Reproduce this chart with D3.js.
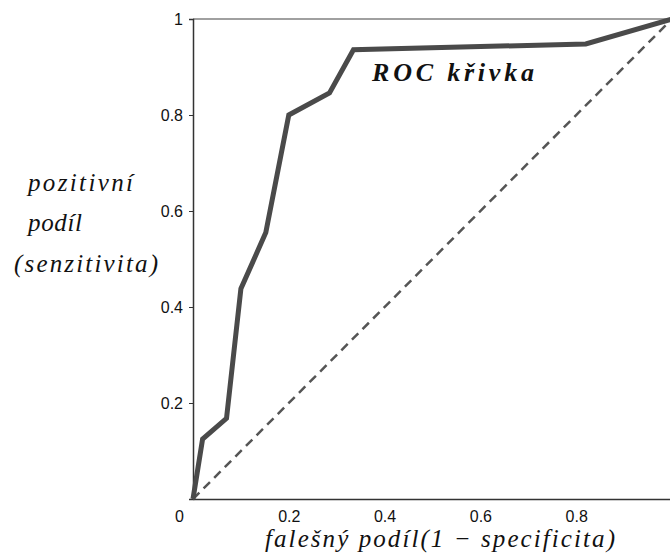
<!DOCTYPE html>
<html lang="en">
<head>
  <meta charset="utf-8">
  <title>ROC křivka</title>
  <script src="https://d3js.org/d3.v7.js"></script>
  <style>
    body { margin: 0; background: #fff; }
    .lbl { font-family: "Liberation Serif", "Times New Roman", serif; font-style: italic; fill: #111; }
  </style>
</head>
<body>
  <div id="my_dataviz"></div>

  <script>
    // ROC points (false positive rate, true positive rate)
    var fpr = [0, 0.02, 0.07, 0.10, 0.152, 0.20, 0.285, 0.335, 0.82, 1];
    var tpr = [0, 0.125, 0.168, 0.438, 0.555, 0.80, 0.846, 0.936, 0.948, 1];
    var xTicks = [0, 0.2, 0.4, 0.6, 0.8];
    var yTicks = [0.2, 0.4, 0.6, 0.8, 1];

    var W = 670, H = 557;
    var margin = {top: 19, right: -2, bottom: 58, left: 193},
        width = W - margin.left - margin.right,
        height = H - margin.top - margin.bottom;

    var svg = d3.select("#my_dataviz")
      .append("svg")
      .attr("width", W)
      .attr("height", H);

    var g = svg.append("g")
      .attr("transform", "translate(" + margin.left + "," + margin.top + ")");

    var x = d3.scaleLinear().domain([0, 1]).range([0, width]);
    var y = d3.scaleLinear().domain([0, 1]).range([height, 0]);

    // top frame line
    g.append("line")
      .attr("x1", x(0)).attr("x2", x(1))
      .attr("y1", y(1)).attr("y2", y(1))
      .attr("stroke", "#808080").attr("stroke-width", 1.5);

    // X axis
    var xAxis = g.append("g")
      .attr("transform", "translate(0," + height + ")")
      .call(d3.axisBottom(x).tickValues(xTicks).tickSize(0).tickPadding(12).tickFormat(d3.format("")));
    xAxis.attr("font-size", 16).attr("font-family", "Liberation Sans, Arial, sans-serif");
    xAxis.select(".domain").attr("stroke", "#333").attr("stroke-width", 1.5);
    xAxis.selectAll(".tick text").attr("fill", "#111")
      .filter(function(d) { return d === 0; })
      .attr("dx", -14);

    // Y axis
    var yAxis = g.append("g")
      .call(d3.axisLeft(y).tickValues(yTicks).tickSize(4).tickPadding(6).tickFormat(d3.format("")));
    yAxis.attr("font-size", 16).attr("font-family", "Liberation Sans, Arial, sans-serif");
    yAxis.select(".domain").attr("stroke", "#333").attr("stroke-width", 1.5);
    yAxis.selectAll(".tick line").attr("stroke", "#333");
    yAxis.selectAll(".tick text").attr("fill", "#111");

    // diagonal
    g.append("line")
      .attr("x1", x(0)).attr("y1", y(0))
      .attr("x2", x(1)).attr("y2", y(1))
      .attr("stroke", "#555")
      .attr("stroke-width", 2.5)
      .attr("stroke-dasharray", "9,6");

    // ROC curve
    var pts = fpr.map(function(d, i) { return [d, tpr[i]]; });
    g.append("path")
      .datum(pts)
      .attr("fill", "none")
      .attr("stroke", "#4a4a4a")
      .attr("stroke-width", 5)
      .attr("stroke-linejoin", "miter")
      .attr("d", d3.line()
        .x(function(d) { return x(d[0]); })
        .y(function(d) { return y(d[1]); }));

    // labels
    function label(txt, lx, ly, size, len, bold) {
      var t = svg.append("text").attr("class", "lbl")
        .attr("x", lx).attr("y", ly)
        .style("font-size", size + "px")
        .attr("textLength", len)
        .attr("lengthAdjust", "spacing")
        .text(txt);
      if (bold) t.style("font-weight", "bold");
      return t;
    }

    label("ROC křivka", 372, 81, 26, 162, true);
    label("pozitivní", 28, 191, 25, 105);
    label("podíl", 28, 231, 25, 54);
    label("(senzitivita)", 14, 272, 25, 144);
    label("falešný  podíl(1 − specificita)", 265, 547, 25, 350);
  </script>
</body>
</html>
